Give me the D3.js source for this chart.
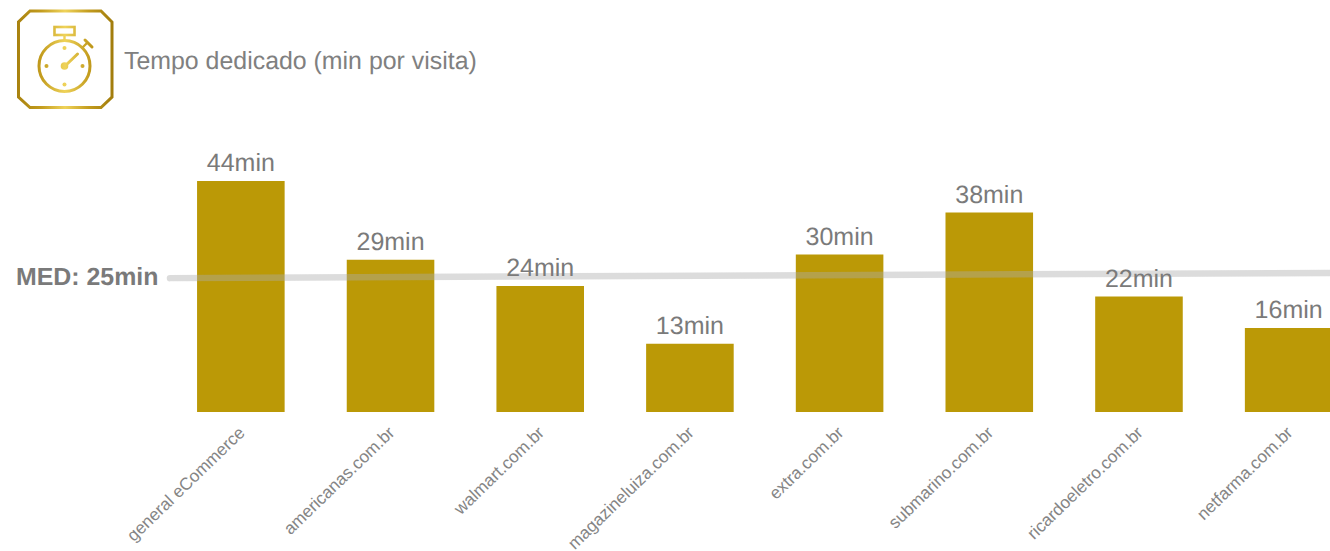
<!DOCTYPE html>
<html>
<head>
<meta charset="utf-8">
<script src="https://cdn.jsdelivr.net/npm/d3@7/dist/d3.min.js"></script>
<style>
html,body{margin:0;padding:0;background:#fff;}
svg{display:block;}
text{font-family:"Liberation Sans",Arial,sans-serif;text-rendering:geometricPrecision;}
</style>
</head>
<body>
<svg id="chart" width="1330" height="551"></svg>
<script>
const categories = ["general eCommerce","americanas.com.br","walmart.com.br","magazineluiza.com.br","extra.com.br","submarino.com.br","ricardoeletro.com.br","netfarma.com.br"];
const minutes = [44,29,24,13,30,38,22,16];
const valueLabels = ["44min","29min","24min","13min","30min","38min","22min","16min"];
const averageLabel = "MED: 25min";
const averageLineLevels = [25.5,26.5];
const heading = "Tempo dedicado (min por visita)";

const svg = d3.select("#chart");
const gold = "#bb9906", grey = "#7a7a7a";

const x = d3.scaleBand().domain(categories).range([166,1363.5]).paddingInner(0.415).paddingOuter(0.2075);
const y = d3.scaleLinear().domain([0,44]).range([412,181]);

// Gold gradient shared by the stopwatch badge
const defs = svg.append("defs");
const grad = defs.append("linearGradient").attr("id","goldSheen")
  .attr("gradientUnits","userSpaceOnUse").attr("x1",17).attr("y1",60).attr("x2",113).attr("y2",60);
[[0,"#a8820f"],[0.25,"#c39c1e"],[0.5,"#efd35a"],[0.75,"#c39c1e"],[1,"#a17c0c"]]
  .forEach(([o,c]) => grad.append("stop").attr("offset",o).attr("stop-color",c));

// Stopwatch badge
const badge = svg.append("g").attr("fill","none").attr("stroke","url(#goldSheen)");
badge.append("path").attr("stroke-width",3)
  .attr("d","M30 11H101L112 22V97L101 107.5H30L18.5 97V22Z");
badge.append("circle").attr("cx",64.5).attr("cy",66).attr("r",25.5).attr("stroke-width",3);
badge.append("rect").attr("x",54.5).attr("y",27).attr("width",20).attr("height",8).attr("stroke-width",2.6);
badge.append("path").attr("stroke-width",2.4).attr("d","M64.5 35V41");
badge.append("path").attr("stroke-width",2.4).attr("stroke-linecap","round").attr("d","M82 48L87 43");
badge.append("path").attr("stroke-width",3).attr("stroke-linecap","round").attr("d","M85 40L92 47");
badge.append("path").attr("stroke-width",3).attr("stroke-linecap","round").attr("d","M65 66L77.5 54");
const dots = svg.append("g").attr("fill","url(#goldSheen)");
dots.append("circle").attr("cx",64.5).attr("cy",66).attr("r",3.8);
[[64.5,48],[64.5,84.5],[46.5,66],[82.5,66]].forEach(([cx,cy]) =>
  dots.append("circle").attr("cx",cx).attr("cy",cy).attr("r",2));

svg.append("text").attr("x",124).attr("y",69).attr("font-size",24.9).attr("fill","#808080").text(heading);

// Bars
svg.append("g").selectAll("rect").data(categories).join("rect")
  .attr("x",d => x(d)).attr("width",x.bandwidth())
  .attr("y",(d,i) => y(minutes[i])).attr("height",(d,i) => y(0)-y(minutes[i]))
  .attr("fill",gold);

// Translucent average line, running over the bars
const avgX = d3.scaleLinear().domain([0,1]).range([170,1330]);
svg.append("path").datum(averageLineLevels)
  .attr("d",d3.line().x((d,i) => avgX(i)).y(d => y(d)))
  .attr("fill","none").attr("stroke","#acacac").attr("stroke-opacity",0.42)
  .attr("stroke-width",6.5).attr("stroke-linecap","round");

// Value labels sit above the line
svg.append("g").selectAll("text").data(categories).join("text")
  .attr("x",d => x(d)+x.bandwidth()/2).attr("y",(d,i) => y(minutes[i])-10)
  .attr("text-anchor","middle").attr("font-size",25).attr("fill",grey)
  .text((d,i) => valueLabels[i]);

svg.append("text").attr("x",16).attr("y",285).attr("font-size",24.9).attr("font-weight",700)
  .attr("fill",grey).text(averageLabel);

// Slanted category labels ending under each bar
const axis = svg.append("g").attr("transform","translate(0,412)")
  .call(d3.axisBottom(x).tickSize(0).tickPadding(0));
axis.select(".domain").remove();
axis.selectAll("text")
  .attr("font-family","\"Liberation Sans\",Arial,sans-serif")
  .attr("font-size",17.2).attr("fill","#858585")
  .attr("text-anchor","end").attr("dy",0).attr("y",0)
  .attr("transform","translate(5,22) rotate(-44)");
</script>
</body>
</html>
